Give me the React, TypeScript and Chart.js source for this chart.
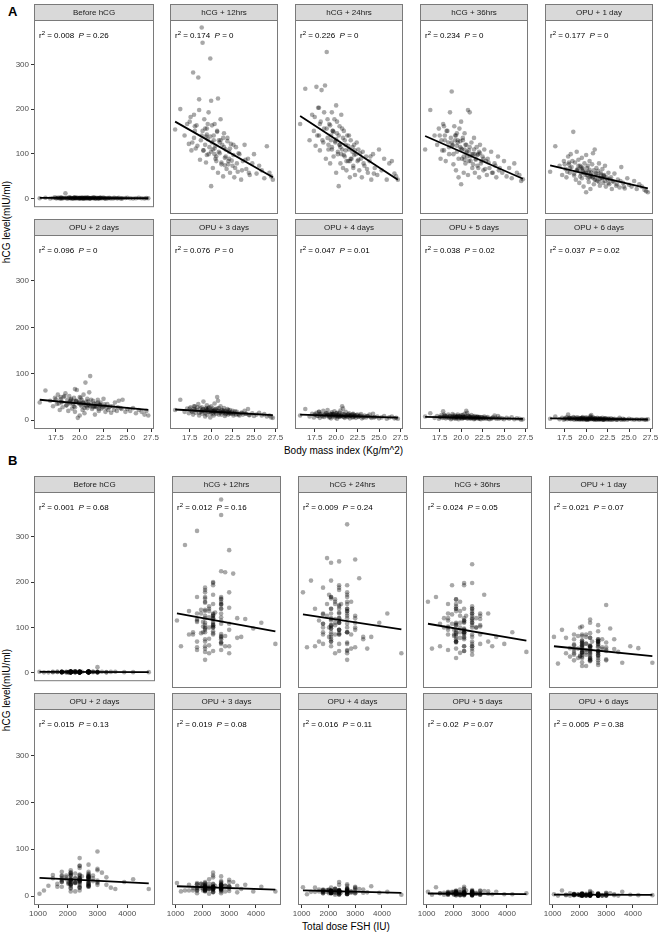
import React, { useEffect, useRef } from "react";
import { Chart, registerables } from "chart.js";
Chart.register(...registerables);

const FONT = '"Liberation Sans", Arial, sans-serif';

// ---------- data ----------
const facetLabels = [
  "Before hCG", "hCG + 12hrs", "hCG + 24hrs", "hCG + 36hrs", "OPU + 1 day",
  "OPU + 2 days", "OPU + 3 days", "OPU + 4 days", "OPU + 5 days", "OPU + 6 days",
];

const bmi = [
  15.8, 16.4, 16.9, 17.2, 17.4, 17.6, 17.7, 17.9, 18.0, 18.1,
  18.2, 18.3, 18.5, 18.6, 18.7, 18.8, 18.9, 19.0, 19.1, 19.2,
  19.3, 19.4, 19.5, 19.5, 19.6, 19.7, 19.8, 19.9, 20.0, 20.0,
  20.1, 20.2, 20.3, 20.4, 20.4, 20.5, 20.6, 20.7, 20.8, 20.8,
  20.9, 21.0, 21.1, 21.2, 21.3, 21.4, 21.5, 21.6, 21.7, 21.8,
  21.9, 22.0, 22.1, 22.2, 22.3, 22.5, 22.6, 22.7, 22.9, 23.0,
  23.1, 23.3, 23.5, 23.7, 23.9, 24.1, 24.3, 24.5, 24.8, 25.0,
  25.3, 25.6, 25.9, 26.2, 26.5, 26.8, 27.0, 27.2, 19.4, 20.6,
  17.5, 17.8, 18.1, 18.4, 18.6, 18.9, 19.1, 19.3, 19.5, 19.7,
  19.9, 20.1, 20.2, 20.3, 20.5, 20.7, 20.9, 21.0, 21.2, 21.4,
  21.5, 21.7, 21.9, 22.0, 22.2, 22.4, 22.6, 22.8, 23.2, 23.6,
  24.0, 24.4, 18.0, 19.0, 20.0, 21.1, 22.1, 19.6, 20.4, 21.6,
];

const fshDose = [
  2100, 2400, 2700, 1800, 2250, 2100, 3000, 1350, 1500, 2700,
  2025, 2100, 3000, 2850, 1950, 2700, 2700, 2700, 2400, 2100,
  3300, 2700, 2700, 2100, 2475, 2400, 1050, 1800, 2100, 3150,
  2400, 1800, 2700, 2250, 2100, 3600, 2400, 2400, 2700, 2100,
  1950, 2400, 3000, 2700, 2100, 1800, 2250, 2400, 4200, 2700,
  2100, 1650, 2400, 2850, 2700, 2100, 3900, 2400, 1800, 2700,
  2250, 2100, 3000, 1500, 2400, 2700, 2025, 2100, 3450, 2400,
  1800, 2700, 4725, 2100, 2400, 1200, 2700, 2250, 2100, 3000,
  2400, 2100, 2700, 1800, 2400, 2250, 2700, 2100, 3000, 2400,
  1950, 2700, 2100, 2400, 1650, 2700, 2100, 2400, 2850, 2250,
  2700, 2100, 2400, 3300, 1800, 2700, 2400, 2100, 2025, 2700,
  2400, 3000, 2100, 2700, 2400, 1800, 2100, 2700, 2400, 2250,
];

const hcgBefore = [
  1, 2, 0.5, 1.5, 3, 1, 2, 0.5, 1, 2.5,
  1, 1.5, 12, 2, 0.5, 1, 3, 1.5, 2, 1,
  0.5, 2, 1, 3, 1.5, 1, 2, 0.5, 1, 2,
  1.5, 1, 2.5, 0.5, 1, 2, 1, 3, 1.5, 1,
  2, 0.5, 1, 1.5, 2, 1, 3, 0.5, 1, 2,
  1, 1.5, 0.5, 2, 1, 2.5, 1, 0.5, 1.5, 1,
  2, 1, 0.5, 1.5, 1, 2, 0.5, 1, 1.5, 2,
  1, 0.5, 1, 2, 1, 0.5, 1.5, 1, 2, 1,
  1, 2, 0.5, 1.5, 1, 2, 1, 0.5, 1.5, 2,
  1, 0.5, 2, 1, 1.5, 1, 2, 0.5, 1, 1.5,
  2, 1, 0.5, 1, 2, 1.5, 1, 0.5, 1, 2,
  1, 0.5, 2.5, 1, 1.5, 1, 2, 1, 0.5, 1,
];
const hcg12h = [
  163, 207, 150, 175, 132, 190, 118, 286, 145, 160,
  122, 172, 275, 228, 98, 140, 383, 350, 118, 185,
  130, 92, 165, 108, 142, 200, 125, 316, 41, 225,
  135, 80, 150, 110, 175, 128, 95, 160, 230, 70,
  140, 112, 185, 88, 130, 62, 155, 102, 120, 78,
  145, 95, 115, 70, 132, 85, 108, 60, 125, 90,
  72, 110, 55, 95, 130, 78, 100, 65, 90, 110,
  68, 85, 75, 58, 127, 70, 62, 55, 148, 105,
  180, 135, 170, 128, 205, 150, 118, 165, 152, 110,
  148, 172, 120, 140, 100, 158, 115, 135, 92, 145,
  125, 105, 138, 88, 122, 96, 130, 80, 112, 75,
  98, 70, 195, 160, 115, 140, 100, 175, 122, 86,
];
const hcg24h = [
  175, 251, 140, 195, 160, 128, 255, 210, 150, 118,
  180, 248, 135, 165, 258, 100, 330, 145, 120, 175,
  90, 150, 200, 125, 160, 105, 185, 138, 70, 215,
  155, 110, 41, 170, 130, 90, 195, 120, 145, 80,
  160, 105, 130, 75, 150, 95, 120, 60, 140, 100,
  115, 80, 130, 65, 110, 95, 120, 75, 100, 60,
  115, 85, 105, 70, 95, 55, 110, 80, 65, 120,
  75, 100, 55, 90, 95, 68, 62, 55, 140, 110,
  190, 150, 175, 140, 200, 165, 130, 172, 120, 158,
  135, 180, 115, 150, 125, 165, 108, 140, 95, 128,
  150, 100, 125, 85, 118, 135, 98, 112, 90, 78,
  105, 68, 210, 185, 142, 118, 108, 160, 130, 95,
];
const hcg36h = [
  120, 205, 150, 130, 165, 100, 140, 175, 118, 150,
  95, 160, 135, 110, 200, 145, 245, 128, 88, 170,
  140, 75, 155, 115, 135, 60, 165, 125, 45, 180,
  100, 140, 70, 120, 155, 90, 130, 105, 205, 65,
  118, 200, 95, 135, 80, 110, 145, 70, 100, 125,
  85, 110, 60, 130, 90, 105, 75, 120, 95, 65,
  100, 80, 115, 70, 90, 60, 105, 80, 70, 95,
  62, 80, 58, 90, 70, 65, 52, 56, 150, 112,
  150, 118, 140, 160, 125, 135, 110, 150, 128, 100,
  138, 120, 145, 105, 130, 115, 95, 125, 110, 88,
  120, 98, 108, 80, 112, 95, 100, 78, 92, 70,
  85, 75, 170, 130, 122, 105, 115, 140, 98, 110,
];
const hcgOpu1 = [
  72, 127, 85, 65, 95, 78, 60, 105, 88, 70,
  110, 82, 158, 64, 92, 55, 115, 75, 98, 48,
  85, 68, 102, 58, 80, 40, 90, 72, 28, 108,
  65, 85, 50, 76, 95, 35, 70, 88, 60, 112,
  45, 120, 68, 80, 52, 74, 90, 42, 66, 58,
  78, 48, 62, 85, 40, 56, 70, 45, 60, 35,
  52, 68, 42, 55, 38, 82, 48, 36, 58, 44,
  40, 52, 35, 45, 40, 33, 30, 28, 82, 63,
  88, 72, 80, 95, 68, 75, 85, 62, 78, 70,
  65, 80, 58, 72, 66, 60, 75, 55, 68, 62,
  50, 70, 58, 64, 52, 60, 48, 56, 50, 45,
  52, 40, 92, 78, 70, 55, 65, 74, 60, 57,
];
const hcgOpu2 = [
  38, 64, 42, 30, 48, 35, 55, 22, 45, 38,
  28, 50, 58, 32, 44, 20, 52, 36, 46, 25,
  40, 30, 67, 18, 42, 65, 5, 38, 10, 50,
  34, 44, 22, 38, 55, 15, 81, 30, 46, 26,
  40, 60, 95, 34, 24, 42, 30, 12, 36, 28,
  44, 20, 32, 38, 25, 46, 30, 18, 35, 22,
  28, 16, 30, 38, 20, 42, 26, 44, 18, 24,
  20, 26, 15, 22, 18, 12, 20, 10, 48, 33,
  45, 36, 40, 52, 32, 38, 44, 35, 28, 42,
  36, 48, 30, 38, 26, 40, 34, 32, 44, 28,
  36, 30, 38, 24, 32, 28, 34, 26, 30, 22,
  28, 24, 50, 42, 38, 30, 34, 40, 36, 29,
];
const hcgOpu3 = [
  22, 44, 18, 25, 15, 28, 20, 12, 24, 30,
  16, 22, 35, 10, 26, 18, 28, 14, 40, 20,
  8, 24, 32, 12, 22, 18, 28, 6, 15, 30,
  20, 25, 10, 36, 18, 24, 14, 50, 42, 20,
  26, 16, 30, 12, 22, 18, 26, 9, 20, 15,
  24, 12, 18, 22, 14, 20, 10, 16, 12, 18,
  14, 10, 16, 12, 20, 14, 24, 11, 15, 9,
  12, 16, 10, 13, 8, 10, 6, 5, 26, 21,
  25, 18, 22, 28, 16, 20, 24, 15, 21, 26,
  18, 22, 14, 20, 17, 25, 12, 19, 22, 16,
  20, 13, 18, 22, 15, 17, 14, 19, 12, 16,
  14, 11, 30, 23, 20, 18, 15, 24, 21, 17,
];
const hcgOpu4 = [
  10, 24, 8, 14, 6, 12, 16, 9, 18, 5,
  13, 10, 20, 7, 12, 15, 9, 22, 11, 6,
  14, 4, 17, 10, 8, 13, 19, 6, 11, 15,
  3, 12, 9, 16, 7, 21, 10, 30, 25, 8,
  13, 5, 18, 10, 7, 12, 15, 4, 9, 11,
  6, 14, 8, 10, 5, 12, 7, 9, 13, 4,
  8, 10, 6, 9, 12, 5, 14, 7, 8, 4,
  6, 9, 3, 6, 8, 4, 5, 3, 12, 9,
  12, 9, 14, 8, 11, 15, 10, 7, 13, 11,
  9, 16, 8, 12, 10, 14, 7, 11, 9, 12,
  8, 10, 13, 7, 9, 11, 8, 10, 6, 9,
  7, 6, 18, 12, 10, 9, 11, 13, 8, 10,
];
const hcgOpu5 = [
  8, 15, 5, 9, 3, 7, 11, 19, 6, 10,
  4, 8, 12, 5, 9, 2, 7, 13, 6, 4,
  10, 3, 8, 6, 12, 2, 9, 5, 7, 11,
  3, 8, 5, 14, 6, 9, 20, 16, 4, 10,
  6, 8, 3, 11, 5, 7, 2, 9, 4, 6,
  8, 3, 5, 7, 2, 6, 4, 8, 3, 5,
  7, 2, 4, 6, 10, 3, 9, 5, 4, 2,
  5, 3, 6, 2, 4, 3, 1, 2, 7, 5,
  7, 5, 9, 6, 8, 4, 10, 6, 7, 5,
  8, 6, 11, 5, 7, 4, 9, 6, 5, 8,
  4, 6, 7, 5, 3, 6, 4, 5, 3, 4,
  5, 3, 12, 8, 6, 5, 7, 9, 6, 4,
];
const hcgOpu6 = [
  3, 8, 2, 5, 1, 4, 6, 12, 3, 5,
  2, 4, 7, 1, 3, 5, 2, 6, 3, 1,
  4, 2, 5, 3, 7, 1, 4, 2, 3, 6,
  1, 4, 2, 5, 3, 9, 11, 4, 2, 6,
  3, 1, 4, 2, 5, 3, 1, 4, 2, 3,
  5, 1, 3, 2, 4, 1, 3, 2, 4, 1,
  2, 3, 1, 2, 5, 1, 3, 2, 1, 3,
  2, 1, 2, 1, 2, 1, 1, 2, 4, 2,
  3, 2, 4, 3, 5, 2, 3, 4, 2, 3,
  4, 1, 3, 2, 6, 3, 2, 4, 1, 3,
  2, 3, 1, 2, 4, 2, 3, 1, 2, 1,
  2, 1, 5, 3, 2, 3, 1, 4, 2, 3,
];
const hcgSeries = [hcgBefore, hcg12h, hcg24h, hcg36h, hcgOpu1, hcgOpu2, hcgOpu3, hcgOpu4, hcgOpu5, hcgOpu6];

// fitted regression lines: y at smallest x and at largest x
const fitAStart = [2, 180, 192, 149, 86, 44, 23, 12, 7, 4];
const fitAEnd = [1, 60, 55, 57, 36, 22, 11, 5.5, 3, 1.5];
const fitBStart = [1.5, 140, 138, 118, 70, 39, 21, 12, 5.5, 3];
const fitBEnd = [1.2, 102, 106, 82, 49, 27, 14, 7, 4, 2.5];

const r2A = ["0.008", "0.174", "0.226", "0.234", "0.177", "0.096", "0.076", "0.047", "0.038", "0.037"];
const pA = ["0.26", "0", "0", "0", "0", "0", "0", "0.01", "0.02", "0.02"];
const r2B = ["0.001", "0.012", "0.009", "0.024", "0.021", "0.015", "0.019", "0.016", "0.02", "0.005"];
const pB = ["0.68", "0.16", "0.24", "0.05", "0.07", "0.13", "0.08", "0.11", "0.07", "0.38"];

const yTicks = [0, 100, 200, 300];
const bmiTicks = [17.5, 20.0, 22.5, 25.0, 27.5];
const fshTicks = [1000, 2000, 3000, 4000];

// ---------- facet ----------
type FacetProps = {
  left: number; top: number; width: number; bodyH: number; stripH: number;
  showY: boolean; showX: boolean; label: string;
  xs: number[]; ys: number[]; xMin: number; xMax: number; xTicks: number[]; decimals: number;
  fitY0: number; fitY1: number; r2: string; p: string;
};

function Facet(pr: FacetProps) {
  const ref = useRef<HTMLCanvasElement>(null);
  const L = pr.showY ? 34 : 12;
  const R = 12;
  const B = pr.showX ? 18 : 0;
  const cw = pr.width + L + R;
  const ch = pr.stripH + pr.bodyH + B;

  useEffect(() => {
    const canvas = ref.current;
    if (!canvas) return;
    const x0 = Math.min(...pr.xs);
    const x1 = Math.max(...pr.xs);
    const decor = {
      id: "facetDecor",
      afterDraw(chart: any) {
        const ctx = chart.ctx;
        const a = chart.chartArea;
        ctx.save();
        ctx.strokeStyle = "#7a7a7a";
        ctx.lineWidth = 1;
        ctx.strokeRect(a.left + 0.5, a.top + 0.5, a.right - a.left - 1, a.bottom - a.top - 1);
        const st = a.top - pr.stripH;
        ctx.fillStyle = "#d9d9d9";
        ctx.fillRect(a.left, st, a.right - a.left, pr.stripH);
        ctx.strokeRect(a.left + 0.5, st + 0.5, a.right - a.left - 1, pr.stripH);
        ctx.fillStyle = "#1a1a1a";
        ctx.font = `8px ${FONT}`;
        ctx.textAlign = "center";
        ctx.textBaseline = "middle";
        ctx.fillText(pr.label, (a.left + a.right) / 2, st + pr.stripH / 2 + 0.5);
        // statistics
        let x = a.left + 5;
        const y = a.top + 16;
        ctx.textAlign = "left";
        ctx.fillStyle = "#000";
        ctx.font = `8px ${FONT}`;
        ctx.fillText("r", x, y);
        x += ctx.measureText("r").width;
        ctx.font = `6px ${FONT}`;
        ctx.fillText("2", x, y - 3);
        x += ctx.measureText("2").width;
        ctx.font = `8px ${FONT}`;
        const s1 = ` = ${pr.r2}  `;
        ctx.fillText(s1, x, y);
        x += ctx.measureText(s1).width;
        ctx.font = `italic 8px ${FONT}`;
        ctx.fillText("P", x, y);
        x += ctx.measureText("P").width;
        ctx.font = `8px ${FONT}`;
        ctx.fillText(` = ${pr.p}`, x, y);
        ctx.restore();
      },
    };
    const tickFont = { family: FONT, size: 8 };
    const chart = new Chart(canvas, {
      type: "scatter",
      data: {
        datasets: [
          {
            type: "scatter",
            data: pr.xs.map((v, i) => ({ x: v, y: pr.ys[i] })),
            backgroundColor: "rgba(0,0,0,0.34)",
            borderWidth: 0,
            pointRadius: 2.3,
            order: 2,
          } as any,
          {
            type: "line",
            data: [{ x: x0, y: pr.fitY0 }, { x: x1, y: pr.fitY1 }],
            borderColor: "#000",
            borderWidth: 1.8,
            pointRadius: 0,
            fill: false,
            order: 1,
          } as any,
        ],
      },
      options: {
        responsive: false,
        animation: false,
        devicePixelRatio: 1,
        events: [],
        layout: {
          autoPadding: false,
          padding: { left: pr.showY ? 0 : L, right: R, top: pr.stripH, bottom: 0 },
        } as any,
        plugins: { legend: { display: false }, tooltip: { enabled: false }, title: { display: false } },
        scales: {
          x: {
            type: "linear",
            min: pr.xMin,
            max: pr.xMax,
            display: pr.showX,
            afterBuildTicks: (s: any) => { s.ticks = pr.xTicks.map((v) => ({ value: v })); },
            afterFit: (s: any) => { s.height = B; },
            ticks: {
              callback: (v: any) => Number(v).toFixed(pr.decimals),
              color: "#4d4d4d",
              font: tickFont,
              padding: 1,
              maxRotation: 0,
              autoSkip: false,
            },
            grid: { drawOnChartArea: false, drawTicks: true, tickLength: 3, color: "#333", lineWidth: 1 },
            border: { display: false },
          },
          y: {
            type: "linear",
            min: -19,
            max: 399,
            display: pr.showY,
            afterBuildTicks: (s: any) => { s.ticks = yTicks.map((v) => ({ value: v })); },
            afterFit: (s: any) => { s.width = L; },
            ticks: {
              callback: (v: any) => String(v),
              color: "#4d4d4d",
              font: tickFont,
              padding: 2,
              autoSkip: false,
            },
            grid: { drawOnChartArea: false, drawTicks: true, tickLength: 3, color: "#333", lineWidth: 1 },
            border: { display: false },
          },
        },
      } as any,
      plugins: [decor],
    });
    return () => chart.destroy();
  }, []);

  return (
    <canvas
      ref={ref}
      width={cw}
      height={ch}
      style={{ position: "absolute", left: pr.left - L, top: pr.top, width: cw, height: ch, display: "block" }}
    />
  );
}

type PanelCfg = {
  letter: string; letterTop: number;
  xs: number[]; xMin: number; xMax: number; xTicks: number[]; decimals: number;
  fitStart: number[]; fitEnd: number[]; r2: string[]; p: string[];
  colLefts: number[]; width: number; top: number; bodyH: number; gap: number;
  yTitleY: number; xTitle: string; xTitleY: number;
};

const STRIP = 16;

function Panel(cfg: PanelCfg) {
  const facets = [];
  for (let k = 0; k < 10; k++) {
    const row = Math.floor(k / 5);
    const col = k % 5;
    const top = cfg.top + row * (STRIP + cfg.bodyH + cfg.gap);
    facets.push(
      <Facet
        key={cfg.letter + k}
        left={cfg.colLefts[col]}
        top={top}
        width={cfg.width}
        bodyH={cfg.bodyH}
        stripH={STRIP}
        showY={col === 0}
        showX={row === 1}
        label={facetLabels[k]}
        xs={cfg.xs}
        ys={hcgSeries[k]}
        xMin={cfg.xMin}
        xMax={cfg.xMax}
        xTicks={cfg.xTicks}
        decimals={cfg.decimals}
        fitY0={cfg.fitStart[k]}
        fitY1={cfg.fitEnd[k]}
        r2={cfg.r2[k]}
        p={cfg.p[k]}
      />
    );
  }
  const right = cfg.colLefts[4] + cfg.width;
  return (
    <>
      <div style={{ position: "absolute", left: 8, top: cfg.letterTop, fontSize: 13, fontWeight: "bold", color: "#000", lineHeight: "14px" }}>
        {cfg.letter}
      </div>
      <div
        style={{
          position: "absolute", left: 7 - 60, top: cfg.yTitleY - 6, width: 120, height: 12, lineHeight: "12px",
          textAlign: "center", fontSize: 10, color: "#000", transform: "rotate(-90deg)", whiteSpace: "nowrap",
        }}
      >
        hCG level(mIU/ml)
      </div>
      <div
        style={{
          position: "absolute", left: cfg.colLefts[0], top: cfg.xTitleY - 6, width: right - cfg.colLefts[0],
          height: 12, lineHeight: "12px", textAlign: "center", fontSize: 10, color: "#000", whiteSpace: "nowrap",
        }}
      >
        {cfg.xTitle}
      </div>
      {facets}
    </>
  );
}

export default function App() {
  return (
    <div style={{ position: "absolute", left: 0, top: 0, width: 661, height: 934, background: "#fff", fontFamily: FONT, overflow: "hidden" }}>
      <Panel
        letter="A" letterTop={5}
        xs={bmi} xMin={15.2} xMax={27.8} xTicks={bmiTicks} decimals={1}
        fitStart={fitAStart} fitEnd={fitAEnd} r2={r2A} p={pA}
        colLefts={[34, 158, 283, 408, 533]} width={120} top={4} bodyH={194} gap={5}
        yTitleY={222} xTitle="Body mass index (Kg/m^2)" xTitleY={451}
      />
      <Panel
        letter="B" letterTop={454}
        xs={fshDose} xMin={865} xMax={4935} xTicks={fshTicks} decimals={0}
        fitStart={fitBStart} fitEnd={fitBEnd} r2={r2B} p={pB}
        colLefts={[34, 160, 286, 411, 537]} width={121} top={476} bodyH={196} gap={5}
        yTitleY={690} xTitle="Total dose FSH (IU)" xTitleY={927}
      />
    </div>
  );
}
